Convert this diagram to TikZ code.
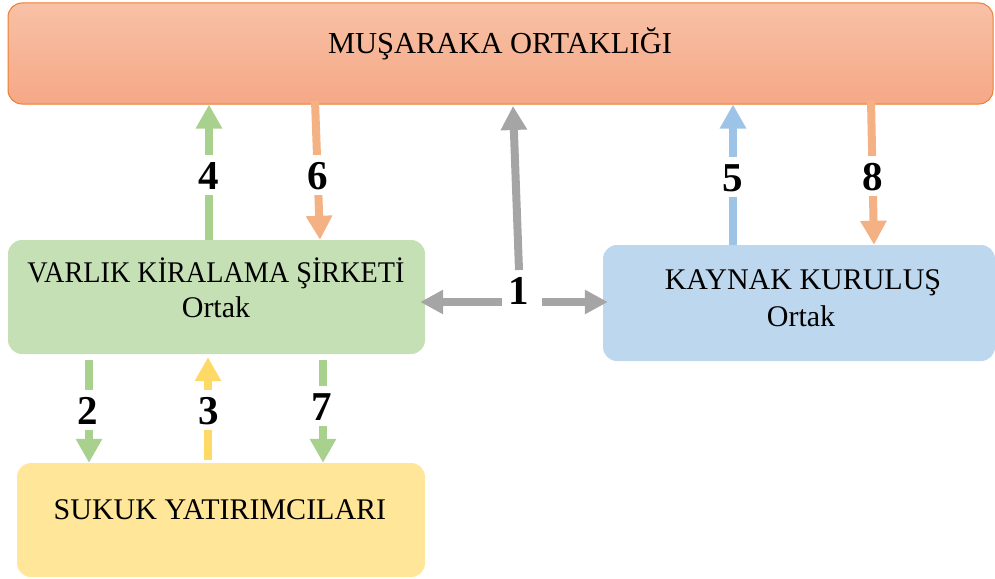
\documentclass[tikz,border=0pt]{standalone}
\usepackage{fontspec}
\setmainfont{Liberation Serif}
\usetikzlibrary{arrows.meta}

\definecolor{musTop}{HTML}{F8C1A6}
\definecolor{musBot}{HTML}{F5A886}
\definecolor{musLine}{HTML}{ED7D31}
\definecolor{vksFill}{HTML}{C5E0B4}
\definecolor{kkFill}{HTML}{BDD7EE}
\definecolor{skFill}{HTML}{FFE699}
\definecolor{arGreen}{HTML}{A9D18E}
\definecolor{arOrange}{HTML}{F4B183}
\definecolor{arGray}{HTML}{A5A5A5}
\definecolor{arBlue}{HTML}{9DC3E6}
\definecolor{arYellow}{HTML}{FFD966}

\begin{document}
\begin{tikzpicture}[x=1pt,y=-1pt,
  box/.style={rounded corners=14pt, inner sep=0pt},
  boxtext/.style={font=\fontsize{30}{34}\selectfont, inner sep=0pt, anchor=base},
  num/.style={font=\fontsize{41}{41}\selectfont\bfseries, fill=white,
    inner xsep=2pt, inner ysep=6pt, text height=28pt, text depth=0pt},
  flow/.style={line width=8pt, -{Triangle[width=25pt,length=24pt]}},
]
\useasboundingbox (0,0) rectangle (995,578);

% boxes
\node[box, draw=musLine, line width=1pt, top color=musTop, bottom color=musBot,
      minimum width=985pt, minimum height=101pt] (mus) at (500.5,53.5) {};
\node[box, fill=vksFill, minimum width=417pt, minimum height=114pt] (vks) at (216.5,297) {};
\node[box, fill=kkFill, minimum width=392pt, minimum height=116pt] (kk) at (799,303) {};
\node[box, fill=skFill, minimum width=408pt, minimum height=114pt] (sk) at (221,520) {};

% box texts
\node[boxtext, font=\fontsize{30.5}{34}\selectfont] (mustxt) at (500,53) {MUŞARAKA ORTAKLIĞI};
\node[boxtext] (vkstxt) at (216,282) {\scalebox{0.94}[1]{VARLIK KİRALAMA ŞİRKETİ}};
\node[boxtext] (vksort) at (216,317) {Ortak};
\node[boxtext] (kktxt) at (803,289) {KAYNAK KURULUŞ};
\node[boxtext] (kkort) at (801,326) {Ortak};
\node[boxtext] (sktxt) at (220,519) {SUKUK YATIRIMCILARI};

% column positions of the flows
\coordinate (c4) at (209,0);
\coordinate (c6a) at (315,0);
\coordinate (c6b) at (320,0);
\coordinate (c5) at (733,0);
\coordinate (c8a) at (871,0);
\coordinate (c8b) at (874,0);
\coordinate (c2) at (89,0);
\coordinate (c3) at (208,0);
\coordinate (c7) at (323,0);
\coordinate (t1) at (513,106);
\coordinate (b1) at (519,270);
\coordinate (l1) at (502,302);
\coordinate (r1) at (542,302);

% flows
\draw[flow, arGreen] (vks.north -| c4) -- (mus.south -| c4);
\draw[flow, arOrange] ([yshift=4pt]mus.south -| c6a) -- (vks.north -| c6b);
\draw[flow, arBlue] (kk.north -| c5) -- (mus.south -| c5);
\draw[flow, arOrange] ([yshift=4pt]mus.south -| c8a) -- (kk.north -| c8b);
\draw[flow, arGreen] ([yshift=-6pt]vks.south -| c2) -- (sk.north -| c2);
\draw[flow, arYellow] ([yshift=3pt]sk.north -| c3) -- ([yshift=-3pt]vks.south -| c3);
\draw[flow, arGreen] ([yshift=-6pt]vks.south -| c7) -- (sk.north -| c7);
\draw[flow, arGray] (b1) -- (t1);
\draw[flow, arGray, -{Triangle[width=23pt,length=23pt]}] (l1) -- ([xshift=-5pt]vks.east |- l1);
\draw[flow, arGray, -{Triangle[width=23pt,length=23pt]}] (r1) -- ([xshift=5pt]kk.west |- r1);

% flow numbers
\node[num] (n4) at (209,175) {4};
\node[num] (n6) at (318,175) {6};
\node[num] (n5) at (733,177) {5};
\node[num] (n8) at (873,176) {8};
\node[num, fill=none] (n1) at (519,290) {1};
\node[num] (n2) at (88,410) {2};
\node[num] (n3) at (209,410) {3};
\node[num] (n7) at (322,406) {7};
\end{tikzpicture}
\end{document}
